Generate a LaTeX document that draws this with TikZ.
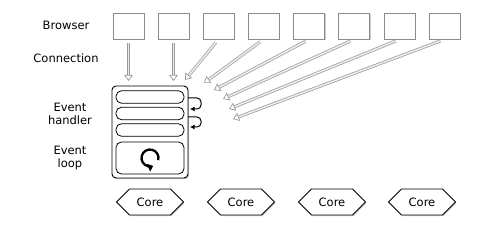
\documentclass[tikz,border=0pt]{standalone}
\usepackage{fontspec}
\setmainfont{DejaVu Sans}
\usetikzlibrary{arrows.meta,shapes.symbols,shadows}
\tikzset{
  softshadow/.style={drop shadow={opacity=.35,fill=black!60,shadow xshift=1pt,shadow yshift=-1.2pt}},
  lbl/.style={font=\fontsize{11.5}{13}\selectfont, align=center},
  browser/.style={draw=gray!90, line width=.8pt, fill=white, minimum width=31pt, minimum height=26pt, softshadow},
  conn/.style={draw=gray!80, line width=.7pt, double=gray!15, double distance=1.6pt, shorten <=4pt,
    -{Triangle[open,length=6pt,width=8.5pt]}},
  slot/.style={draw, line width=.8pt, rounded corners=5.5pt, minimum width=68pt, minimum height=12.5pt},
  core/.style={draw, line width=.8pt, fill=white, signal, signal to=west and east, minimum width=67pt,
    minimum height=26pt, inner sep=1pt, font=\fontsize{11.5}{13}\selectfont, softshadow},
  hop/.style={rounded corners=4pt, line width=1pt, -{Latex[length=4.5pt,width=5pt]}}
}
\begin{document}
\begin{tikzpicture}[x=1pt,y=1pt]
\useasboundingbox (0,0) rectangle (500,241);
% row labels
\node[lbl] (lbrowser) at (66,216) {Browser};
\node[lbl] (lconn) at (66,183) {Connection};
\node[lbl] (lhandler) at (70,127.5) {Event\\handler};
\node[lbl] (lloop) at (70,83) {Event\\loop};
% browsers
\node[browser] (b1) at (128.5,215) {};
\node[browser] (b2) at (173.5,215) {};
\node[browser] (b3) at (218.5,215) {};
\node[browser] (b4) at (263.5,215) {};
\node[browser] (b5) at (309,215) {};
\node[browser] (b6) at (354,215) {};
\node[browser] (b7) at (399.5,215) {};
\node[browser] (b8) at (444.5,215) {};
% server with handlers and loop
\node[draw, line width=.9pt, fill=white, rounded corners=4pt, minimum width=76pt, minimum height=92pt, softshadow] (server) at (150,109) {};
\node[slot] (r1) at (150,144) {};
\node[slot] (r2) at (150,127.5) {};
\node[slot] (r3) at (150,111) {};
\node[slot, minimum height=32pt] (loopbox) at (150,83) {};
\draw[line width=2.3pt, -{Triangle[length=5pt,width=8pt]}] (loopbox.center) ++(-15:8.5)
  arc[start angle=-15, end angle=292, radius=8.5];
% connections
\coordinate (t1) at (128.5,160);
\coordinate (t2) at (173.5,160);
\coordinate (t3) at (185,161);
\coordinate (t4) at (204,158);
\coordinate (t5) at (214,151);
\coordinate (t6) at (223,142);
\coordinate (t7) at (229,132);
\coordinate (t8) at (233,122);
\draw[conn] (b1.south) -- (t1);
\draw[conn] (b2.south) -- (t2);
\draw[conn] (b3.south) -- (t3);
\draw[conn] (b4.south) -- (t4);
\draw[conn] (b5.south) -- (t5);
\draw[conn] (b6.south) -- (t6);
\draw[conn] (b7.south) -- (t7);
\draw[conn] (b8.south) -- (t8);
% handler hops
\coordinate (h1) at (188,143);
\coordinate (h2) at (190,132);
\coordinate (h3) at (188,124);
\coordinate (h4) at (190,114);
\draw[hop] (h1) -- ++(13,0) |- (h2);
\draw[hop] (h3) -- ++(13,0) |- (h4);
% cores
\node[core] (c1) at (150,39) {Core};
\node[core] (c2) at (241,39) {Core};
\node[core] (c3) at (332,39) {Core};
\node[core] (c4) at (422,39) {Core};
\end{tikzpicture}
\end{document}
